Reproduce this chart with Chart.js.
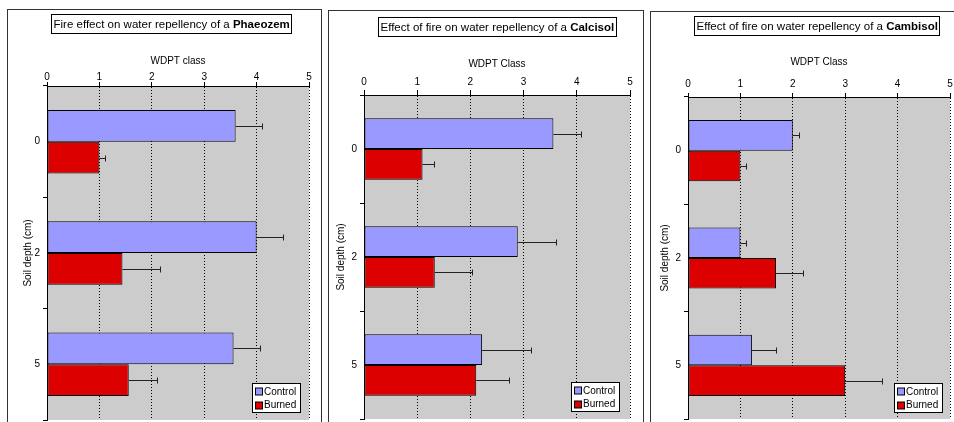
<!DOCTYPE html>
<html>
<head>
<meta charset="utf-8">
<title>Fire effect on water repellency</title>
<script src="https://cdn.jsdelivr.net/npm/chart.js@4.4.0/dist/chart.umd.min.js"></script>
<style>
    html, body { margin: 0; padding: 0; background: #fff; overflow: hidden; }
    body { width: 954px; height: 422px; position: relative; }
    .panel { position: absolute; border: 1px solid #333; box-sizing: border-box; height: 440px; }
    .panel canvas { position: absolute; left: 0; top: 0; }
</style>
</head>
<body>
<div class="panel" style="left:7px; top:9px; width:315px;"><canvas id="phaeozemChart" width="312" height="420"></canvas></div>
<div class="panel" style="left:328px; top:10px; width:316px;"><canvas id="calcisolChart" width="313" height="420"></canvas></div>
<div class="panel" style="left:650px; top:11px; width:320px;"><canvas id="cambisolChart" width="312" height="420"></canvas></div>

<script>
// Soil depth categories (cm) and WDPT axis ticks
const depths = ['0', '2', '5'];
const wdptTicks = [0, 1, 2, 3, 4, 5];
const seriesNames = ['Control', 'Burned'];

// Phaeozem
const phaeozemControl = [3.6, 4.0, 3.56];
const phaeozemControlErr = [0.5, 0.5, 0.5];
const phaeozemBurned = [1.0, 1.44, 1.56];
const phaeozemBurnedErr = [0.1, 0.72, 0.53];

// Calcisol
const calcisolControl = [3.56, 2.89, 2.22];
const calcisolControlErr = [0.52, 0.71, 0.91];
const calcisolBurned = [1.1, 1.33, 2.11];
const calcisolBurnedErr = [0.21, 0.7, 0.61];

// Cambisol
const cambisolControl = [2.0, 1.0, 1.22];
const cambisolControlErr = [0.11, 0.1, 0.46];
const cambisolBurned = [1.0, 1.68, 3.0];
const cambisolBurnedErr = [0.1, 0.51, 0.7];

const FONT = "'Liberation Sans', Arial, sans-serif";
const CONTROL_COLOR = '#9999FF';
const BURNED_COLOR = '#DD0000';

Chart.defaults.font.family = FONT;
Chart.defaults.font.size = 10;
Chart.defaults.color = '#000';

// grey plot area, boxed title, error bars and inner legend
const panelDecor = {
    id: 'panelDecor',
    beforeDraw(chart) {
        const { ctx, chartArea } = chart;
        ctx.save();
        ctx.fillStyle = '#CCCCCC';
        ctx.fillRect(chartArea.left, chartArea.top, chartArea.right - chartArea.left, chartArea.bottom - chartArea.top);
        ctx.restore();
    },
    afterDatasetsDraw(chart) {
        const { ctx } = chart;
        const xScale = chart.scales.x;
        ctx.save();
        ctx.strokeStyle = '#222';
        ctx.lineWidth = 1;
        chart.data.datasets.forEach((ds, i) => {
            const meta = chart.getDatasetMeta(i);
            meta.data.forEach((bar, j) => {
                const end = xScale.getPixelForValue(ds.data[j] + ds.errorBars[j]);
                const y = Math.round(bar.y) + 0.5;
                const x2 = Math.round(end) + 0.5;
                ctx.beginPath();
                ctx.moveTo(bar.x, y);
                ctx.lineTo(x2, y);
                ctx.moveTo(x2, y - 3);
                ctx.lineTo(x2, y + 3);
                ctx.stroke();
            });
        });
        ctx.restore();
    },
    afterDraw(chart, args, opts) {
        const { ctx, chartArea } = chart;
        ctx.save();

        // title box with bold soil name
        const titleFont = '11.5px ' + FONT;
        const titleBoldFont = 'bold 11.5px ' + FONT;
        ctx.font = titleFont;
        const w1 = ctx.measureText(opts.titleText).width;
        ctx.font = titleBoldFont;
        const w2 = ctx.measureText(opts.titleBold).width;
        const boxW = Math.round(w1 + w2 + 4);
        const boxX = Math.round(opts.titleCenter - boxW / 2) + 0.5;
        const boxY = opts.titleTop + 0.5;
        ctx.fillStyle = '#fff';
        ctx.fillRect(boxX, boxY, boxW, 19);
        ctx.strokeStyle = '#000';
        ctx.strokeRect(boxX, boxY, boxW, 19);
        ctx.fillStyle = '#000';
        ctx.textBaseline = 'middle';
        ctx.textAlign = 'left';
        ctx.font = titleFont;
        ctx.fillText(opts.titleText, boxX + 2, boxY + 10);
        ctx.font = titleBoldFont;
        ctx.fillText(opts.titleBold, boxX + 2 + w1, boxY + 10);

        // legend in the lower right corner
        const legW = 48, legH = 29;
        const lx = Math.round(chartArea.right - opts.legendRight - legW) + 0.5;
        const ly = Math.round(chartArea.bottom - opts.legendBottom - legH) + 0.5;
        ctx.fillStyle = '#fff';
        ctx.fillRect(lx, ly, legW, legH);
        ctx.strokeStyle = '#000';
        ctx.strokeRect(lx, ly, legW, legH);
        ctx.font = '10px ' + FONT;
        chart.data.datasets.forEach((ds, i) => {
            const cy = ly + 8 + i * 13.5;
            ctx.fillStyle = ds.backgroundColor;
            ctx.fillRect(lx + 3, Math.round(cy - 3.5), 7, 7);
            ctx.strokeRect(lx + 3, Math.round(cy - 3.5), 7, 7);
            ctx.fillStyle = '#000';
            ctx.fillText(ds.label, lx + 11.5, cy + 0.5);
        });
        ctx.restore();
    }
};

function makeSoilChart(canvasId, control, controlErr, burned, burnedErr, layout) {
    const ctx = document.getElementById(canvasId);
    if (!ctx) return;

    try {
        const data = {
            labels: depths,
            datasets: [
                {
                    label: seriesNames[0],
                    data: control,
                    errorBars: controlErr,
                    backgroundColor: CONTROL_COLOR,
                    borderColor: '#000',
                    borderWidth: 1,
                    borderSkipped: false
                },
                {
                    label: seriesNames[1],
                    data: burned,
                    errorBars: burnedErr,
                    backgroundColor: BURNED_COLOR,
                    borderColor: '#000',
                    borderWidth: 1,
                    borderSkipped: false
                }
            ]
        };

        const config = {
            type: 'bar',
            data: data,
            plugins: [panelDecor],
            options: {
                indexAxis: 'y',
                responsive: false,
                animation: false,
                categoryPercentage: 0.57,
                barPercentage: 1,
                layout: {
                    padding: { left: 0, top: 0, right: layout.padRight, bottom: layout.padBottom }
                },
                plugins: {
                    legend: { display: false },
                    tooltip: { enabled: false },
                    panelDecor: {
                        titleText: layout.titleText,
                        titleBold: layout.titleBold,
                        titleCenter: layout.titleCenter,
                        titleTop: layout.titleTop,
                        legendRight: layout.legendRight,
                        legendBottom: layout.legendBottom
                    }
                },
                scales: {
                    x: {
                        position: 'top',
                        min: wdptTicks[0],
                        max: wdptTicks[wdptTicks.length - 1],
                        afterBuildTicks: function (scale) {
                            scale.ticks = wdptTicks.map(v => ({ value: v }));
                        },
                        ticks: {
                            padding: layout.xTickPad,
                            color: '#000'
                        },
                        grid: {
                            color: '#000',
                            tickColor: '#000',
                            tickLength: layout.xTickLen
                        },
                        border: {
                            color: '#000',
                            dash: [1, 2]
                        },
                        title: {
                            display: true,
                            text: layout.xTitle,
                            color: '#000',
                            padding: { top: layout.xTitlePad, bottom: 0 }
                        },
                        afterFit: function (scale) {
                            scale.height = layout.xHeight;
                        }
                    },
                    y: {
                        ticks: {
                            padding: 3,
                            color: '#000'
                        },
                        grid: {
                            drawOnChartArea: false,
                            color: '#000',
                            tickLength: 4
                        },
                        border: {
                            color: '#000'
                        },
                        title: {
                            display: true,
                            text: 'Soil depth (cm)',
                            color: '#000',
                            padding: { top: layout.yTitlePad, bottom: 0 }
                        },
                        afterFit: function (scale) {
                            scale.width = layout.yWidth;
                        }
                    }
                }
            }
        };

        new Chart(ctx, config);
    } catch (error) {
        console.error('Failed to initialize ' + canvasId + ':', error);
    }
}

function initPhaeozemChart() {
    makeSoilChart('phaeozemChart', phaeozemControl, phaeozemControlErr, phaeozemBurned, phaeozemBurnedErr, {
        titleText: 'Fire effect on water repellency of a ',
        titleBold: 'Phaeozem',
        titleCenter: 163,
        titleTop: 4,
        xTitle: 'WDPT class',
        xTitlePad: 45,
        xHeight: 76,
        xTickLen: 4,
        xTickPad: -1,
        yWidth: 39,
        yTitlePad: 14,
        padRight: 11,
        padBottom: 10,
        legendRight: 9,
        legendBottom: 8
    });
}

function initCalcisolChart() {
    makeSoilChart('calcisolChart', calcisolControl, calcisolControlErr, calcisolBurned, calcisolBurnedErr, {
        titleText: 'Effect of fire on water repellency of a ',
        titleBold: 'Calcisol',
        titleCenter: 168,
        titleTop: 6,
        xTitle: 'WDPT Class',
        xTitlePad: 47,
        xHeight: 84,
        xTickLen: 5,
        xTickPad: 2,
        yWidth: 35,
        yTitlePad: 6,
        padRight: 12,
        padBottom: 12,
        legendRight: 11,
        legendBottom: 8
    });
}

function initCambisolChart() {
    makeSoilChart('cambisolChart', cambisolControl, cambisolControlErr, cambisolBurned, cambisolBurnedErr, {
        titleText: 'Effect of fire on water repellency of a ',
        titleBold: 'Cambisol',
        titleCenter: 165,
        titleTop: 4,
        xTitle: 'WDPT Class',
        xTitlePad: 44,
        xHeight: 85,
        xTickLen: 4,
        xTickPad: 3,
        yWidth: 37,
        yTitlePad: 8,
        padRight: 13,
        padBottom: 13,
        legendRight: 8,
        legendBottom: 7
    });
}

function initSoilCharts() {
    initPhaeozemChart();
    initCalcisolChart();
    initCambisolChart();
}

if (document.readyState === 'loading') {
    document.addEventListener('DOMContentLoaded', initSoilCharts);
} else {
    initSoilCharts();
}
</script>
</body>
</html>
